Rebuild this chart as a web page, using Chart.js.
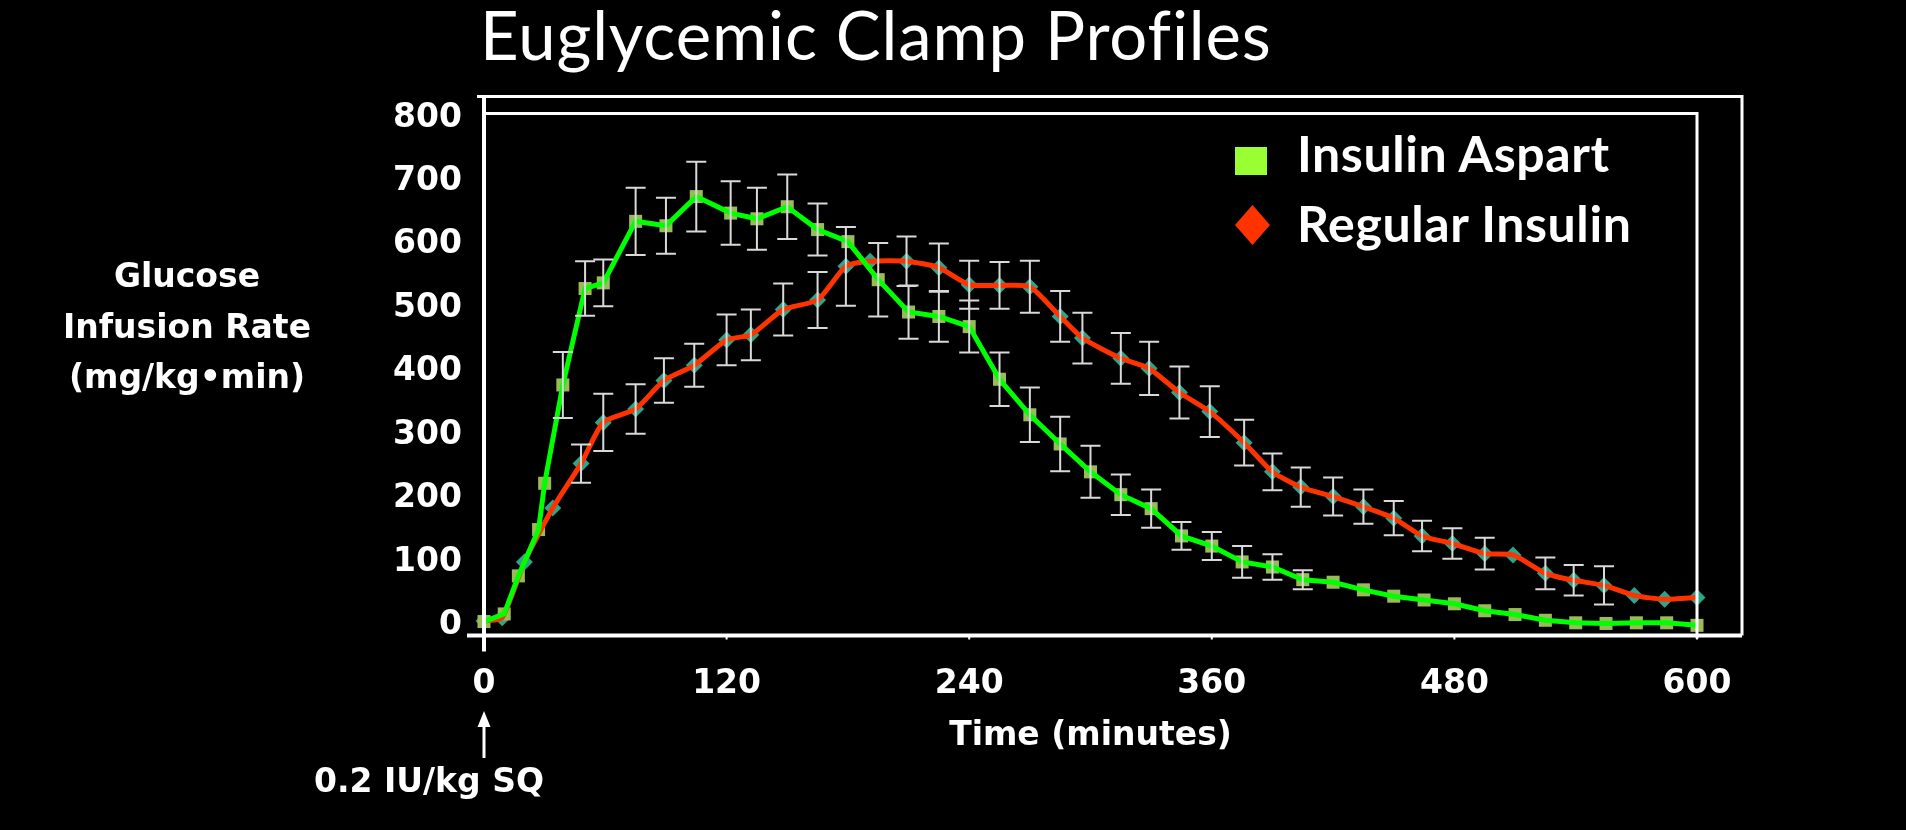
<!DOCTYPE html>
<html>
<head>
<meta charset="utf-8">
<script src="https://cdn.jsdelivr.net/npm/chart.js@4.4.1/dist/chart.umd.min.js"></script>
<style>
  html, body { margin: 0; padding: 0; background: #000; }
  #wrap { position: relative; width: 1906px; height: 830px; background: #000; overflow: hidden; }
  #chart { position: absolute; left: 0; top: 0; }
  .txt { position: absolute; color: #fff; white-space: nowrap; }
  #title { left: 480px; top: 1px; font: 400 67px/67px Lato, sans-serif; letter-spacing: 0.9px; }
  #yTitle { left: 37px; top: 251px; width: 300px; text-align: center; font: bold 33px/50.5px 'DejaVu Sans', Verdana, sans-serif; }
  #dose { left: 279px; top: 761px; width: 300px; text-align: center; font: bold 33px/40px 'DejaVu Sans', Verdana, sans-serif; }
  .legTxt { left: 1297px; font: bold 50px/50px Lato, sans-serif; letter-spacing: 0.6px; }
  #legSq { position: absolute; left: 1235px; top: 147px; width: 32px; height: 28px; background: #99FF33; }
  #legDia { position: absolute; left: 1235px; top: 205px; width: 35px; height: 40px; background: #FF3300;
            clip-path: polygon(50% 0, 100% 50%, 50% 100%, 0 50%); }
</style>
</head>
<body>
<div id="wrap">
  <canvas id="chart" width="1906" height="830"></canvas>
  <div class="txt" id="title">Euglycemic Clamp Profiles</div>
  <div class="txt" id="yTitle">Glucose<br>Infusion Rate<br>(mg/kg•min)</div>
  <div class="txt" id="dose">0.2 IU/kg SQ</div>
  <div id="legSq"></div>
  <div class="txt legTxt" style="top:128px">Insulin Aspart</div>
  <div id="legDia"></div>
  <div class="txt legTxt" style="top:198px">Regular Insulin</div>
</div>
<script>
// --- data ---
const aspartTimes = [0, 10, 17, 27, 30, 39, 50, 59, 75, 90, 105, 122, 135, 150, 165, 180, 195, 210, 225, 240,
  255, 270, 285, 300, 315, 330, 345, 360, 375, 390, 405, 420, 435, 450, 465, 480, 495, 510, 525, 540, 555, 570, 585, 600];
const aspartGIR = [6, 18, 78, 151, 224, 379, 531, 540, 637, 630, 676, 650, 641, 660, 624, 605, 545, 494, 487, 471,
  388, 332, 286, 242, 206, 184, 141, 125, 100, 92, 72, 68, 56, 46, 40, 34, 23, 17, 8, 4, 3, 4, 4, 0];
const aspartErr = [0, 0, 0, 0, 0, 52, 43, 37, 53, 44, 55, 50, 49, 51, 41, 0, 58, 42, 40, 41,
  42, 43, 43, 41, 32, 30, 22, 22, 25, 20, 15, 0, 0, 0, 0, 0, 0, 0, 0, 0, 0, 0, 0, 0];

const regularTimes = [0, 9, 20, 34, 48, 59, 75, 89, 104, 120, 132, 148, 165, 179, 191, 209, 225, 240, 255, 270,
  285, 296, 315, 329, 344, 359, 376, 390, 404, 420, 435, 450, 464, 479, 495, 509, 525, 539, 554, 569, 584, 600];
const regularGIR = [7, 12, 100, 185, 255, 320, 341, 386, 410, 450, 458, 498, 513, 566, 574, 574, 564, 537, 536, 534,
  487, 453, 421, 405, 367, 337, 288, 242, 218, 203, 187, 169, 141, 129, 113, 111, 82, 71, 63, 47, 41, 44];
const regularErr = [0, 0, 0, 0, 30, 45, 39, 35, 34, 40, 40, 41, 44, 62, 0, 39, 38, 38, 37, 41,
  40, 40, 40, 42, 41, 40, 36, 29, 31, 30, 27, 27, 24, 24, 25, 0, 25, 24, 30, 0, 0, 0];

const xTicks = [0, 120, 240, 360, 480, 600];
const yTicks = [0, 100, 200, 300, 400, 500, 600, 700, 800];

const toPoints = (ts, vs) => ts.map((t, i) => ({ x: t, y: vs[i] }));

const tickFont = { family: "'DejaVu Sans', Verdana, sans-serif", weight: 'bold', size: 33 };

// error bars, drawn with the chart's own scales
const errorBars = {
    id: 'errorBars',
    afterDatasetsDraw(chart) {
        const { ctx, scales: { x, y } } = chart;
        ctx.save();
        ctx.strokeStyle = '#D9D9D9';
        ctx.lineWidth = 2;
        [[aspartTimes, aspartGIR, aspartErr], [regularTimes, regularGIR, regularErr]].forEach(([ts, vs, es]) => {
            ts.forEach((t, i) => {
                if (!es[i]) return;
                const px = x.getPixelForValue(t);
                const top = y.getPixelForValue(vs[i] + es[i]);
                const bot = y.getPixelForValue(vs[i] - es[i]);
                ctx.beginPath();
                ctx.moveTo(px, top); ctx.lineTo(px, bot);
                ctx.moveTo(px - 10, top); ctx.lineTo(px + 10, top);
                ctx.moveTo(px - 10, bot); ctx.lineTo(px + 10, bot);
                ctx.stroke();
            });
        });
        ctx.restore();
    }
};

// white frame, axes and the dose arrow
const frame = {
    id: 'frame',
    afterDatasetsDraw(chart) {
        const { ctx, chartArea: a, scales: { x } } = chart;
        ctx.save();
        ctx.strokeStyle = '#fff';
        ctx.lineWidth = 3;
        ctx.beginPath();
        ctx.moveTo(a.left - 7, a.top - 17);
        ctx.lineTo(a.right + 45, a.top - 17);
        ctx.lineTo(a.right + 45, a.bottom);
        ctx.moveTo(a.left, a.top);
        ctx.lineTo(a.right, a.top);
        ctx.lineTo(a.right, a.bottom + 3);
        ctx.stroke();

        ctx.lineWidth = 4;
        ctx.beginPath();
        ctx.moveTo(a.left, a.top - 18);
        ctx.lineTo(a.left, a.bottom + 16);
        ctx.moveTo(a.left - 17, a.bottom);
        ctx.lineTo(a.right + 45, a.bottom);
        ctx.stroke();

        ctx.lineWidth = 2;
        ctx.beginPath();
        xTicks.forEach(t => {
            const px = x.getPixelForValue(t);
            ctx.moveTo(px, a.bottom); ctx.lineTo(px, a.bottom + 4);
        });
        ctx.stroke();

        // arrow under the 0 label
        const ax = x.getPixelForValue(0);
        ctx.fillStyle = '#fff';
        ctx.lineWidth = 3;
        ctx.beginPath();
        ctx.moveTo(ax, 758); ctx.lineTo(ax, 722);
        ctx.stroke();
        ctx.beginPath();
        ctx.moveTo(ax, 711); ctx.lineTo(ax + 6.5, 727); ctx.lineTo(ax - 6.5, 727);
        ctx.closePath();
        ctx.fill();
        ctx.restore();
    }
};

new Chart(document.getElementById('chart'), {
    type: 'scatter',
    data: {
        datasets: [
            {
                label: 'Regular Insulin markers',
                data: toPoints(regularTimes, regularGIR),
                showLine: false,
                pointStyle: 'rectRot',
                pointRadius: 8.5,
                pointBackgroundColor: '#2BA68B',
                pointBorderWidth: 0,
                clip: false,
                order: 4
            },
            {
                label: 'Insulin Aspart markers',
                data: toPoints(aspartTimes, aspartGIR),
                showLine: false,
                pointStyle: 'rect',
                pointRadius: 9.2,
                pointBackgroundColor: '#9BBB59',
                pointBorderWidth: 0,
                clip: false,
                order: 3
            },
            {
                label: 'Regular Insulin',
                data: toPoints(regularTimes, regularGIR),
                showLine: true,
                borderColor: '#FF3300',
                borderWidth: 5,
                tension: 0.2,
                pointRadius: 0,
                clip: false,
                order: 2
            },
            {
                label: 'Insulin Aspart',
                data: toPoints(aspartTimes, aspartGIR),
                showLine: true,
                borderColor: '#00FF00',
                borderWidth: 5,
                tension: 0,
                pointRadius: 0,
                clip: false,
                order: 1
            }
        ]
    },
    options: {
        responsive: false,
        animation: false,
        layout: { padding: { left: 0, right: 209, top: 113.5, bottom: 44.5 } },
        plugins: {
            legend: { display: false },
            tooltip: { enabled: false }
        },
        scales: {
            x: {
                type: 'linear',
                min: 0,
                max: 600,
                afterBuildTicks: s => { s.ticks = xTicks.map(v => ({ value: v })); },
                afterFit: s => { s.height = 150; },
                grid: { display: false, drawTicks: false },
                border: { display: false },
                ticks: { color: '#fff', font: tickFont, padding: 29, maxRotation: 0, autoSkip: false },
                title: {
                    display: true,
                    text: 'Time (minutes)',
                    color: '#fff',
                    font: tickFont,
                    padding: { top: 0, bottom: 29 }
                }
            },
            y: {
                type: 'linear',
                min: -16,
                max: 807,
                afterBuildTicks: s => { s.ticks = yTicks.map(v => ({ value: v })); },
                afterFit: s => { s.width = 484; },
                grid: { display: false, drawTicks: false },
                border: { display: false },
                ticks: { color: '#fff', font: tickFont, padding: 22, autoSkip: false }
            }
        }
    },
    plugins: [errorBars, frame]
});
</script>
</body>
</html>
